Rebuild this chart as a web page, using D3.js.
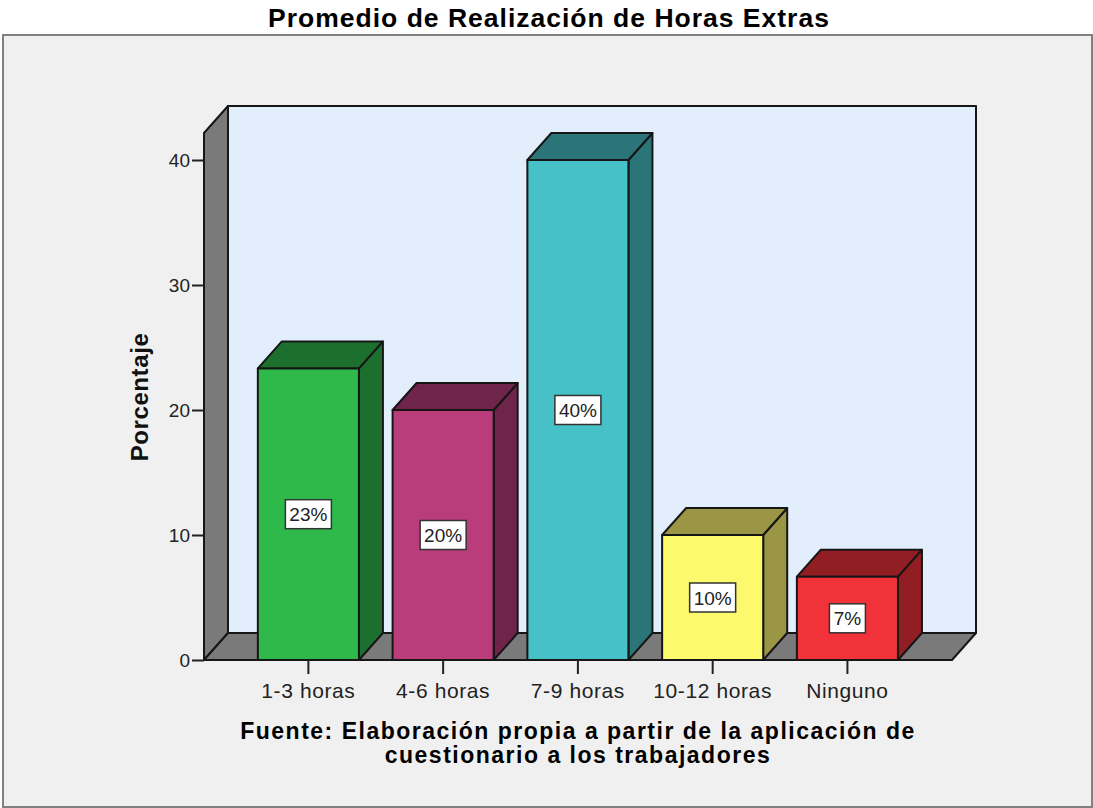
<!DOCTYPE html>
<html>
<head>
<meta charset="utf-8">
<script src="https://cdn.jsdelivr.net/npm/d3@7"></script>
<style>
  html, body { margin: 0; padding: 0; background: #fff; }
  svg { display: block; }
  text { font-family: "Liberation Sans", Arial, sans-serif; }
  .axis text { font-size: 21px; letter-spacing: 0.6px; fill: #222; }
  .axis.left text { font-size: 19px; letter-spacing: 0; }
  .axis line { stroke: #222; stroke-width: 2; }
</style>
</head>
<body>
<script>
var categories = ["1-3 horas", "4-6 horas", "7-9 horas", "10-12 horas", "Ninguno"];
var values = [23.33, 20, 40, 10, 6.67];
var labels = ["23%", "20%", "40%", "10%", "7%"];
var yTicks = [0, 10, 20, 30, 40];
var faceColors = ["#2fb94a", "#b93d7b", "#47c1c8", "#fcf96d", "#f13239"];
var shadeColors = ["#1c6f2d", "#6f254a", "#2b7478", "#9a9645", "#911e22"];

var width = 1093;
var height = 808;
var depthX = 24;
var depthY = 27;
var outline = "#161616";

var svg = d3.select("body").append("svg")
  .attr("width", width)
  .attr("height", height);

// chart frame
svg.append("rect")
  .attr("x", 3)
  .attr("y", 35)
  .attr("width", 1089)
  .attr("height", 772)
  .attr("fill", "#f0f0f0")
  .attr("stroke", "#808080")
  .attr("stroke-width", 2);

svg.append("text")
  .attr("x", 549)
  .attr("y", 27)
  .attr("text-anchor", "middle")
  .attr("font-size", 26.5)
  .attr("font-weight", "bold")
  .attr("letter-spacing", 1)
  .attr("fill", "#000")
  .text("Promedio de Realización de Horas Extras");

var x = d3.scaleBand()
  .domain(categories)
  .range([241, 914.8])
  .paddingInner(0.25)
  .paddingOuter(0.125);

var y = d3.scaleLinear()
  .domain([0, 40])
  .range([660, 160]);

var floorY = y(0);
var wallTop = 133;
var left = 204;
var right = 952;

function poly(points, fill) {
  svg.append("polygon")
    .attr("points", points.map(function (p) { return p.join(","); }).join(" "))
    .attr("fill", fill)
    .attr("stroke", outline)
    .attr("stroke-width", 2)
    .attr("stroke-linejoin", "round");
}

// back wall, side wall, floor
poly([[left + depthX, wallTop - depthY], [right + depthX, wallTop - depthY],
      [right + depthX, floorY - depthY], [left + depthX, floorY - depthY]], "#e2eefb");
poly([[left, wallTop], [left + depthX, wallTop - depthY],
      [left + depthX, floorY - depthY], [left, floorY]], "#7a7a7a");
poly([[left, floorY], [left + depthX, floorY - depthY],
      [right + depthX, floorY - depthY], [right, floorY]], "#7a7a7a");

// bars: side, top, then front
categories.forEach(function (c, i) {
  var x0 = x(c);
  var x1 = x0 + x.bandwidth();
  var top = y(values[i]);
  poly([[x1, floorY], [x1 + depthX, floorY - depthY],
        [x1 + depthX, top - depthY], [x1, top]], shadeColors[i]);
  poly([[x0, top], [x0 + depthX, top - depthY],
        [x1 + depthX, top - depthY], [x1, top]], shadeColors[i]);
  poly([[x0, top], [x1, top], [x1, floorY], [x0, floorY]], faceColors[i]);
});

// value labels
categories.forEach(function (c, i) {
  var cx = x(c) + x.bandwidth() / 2;
  var cy = y(values[i] / 2);
  var boxW = labels[i].length > 2 ? 46 : 36;
  svg.append("rect")
    .attr("x", cx - boxW / 2)
    .attr("y", cy - 14.5)
    .attr("width", boxW)
    .attr("height", 29)
    .attr("fill", "#fff")
    .attr("stroke", "#333")
    .attr("stroke-width", 1.5);
  svg.append("text")
    .attr("x", cx)
    .attr("y", cy + 7)
    .attr("text-anchor", "middle")
    .attr("font-size", 19)
    .attr("fill", "#222")
    .text(labels[i]);
});

var yAxis = d3.axisLeft(y)
  .tickValues(yTicks)
  .tickSize(12)
  .tickSizeOuter(0)
  .tickPadding(2);

svg.append("g")
  .attr("class", "axis left")
  .attr("transform", "translate(" + left + ",0)")
  .call(yAxis)
  .call(function (g) { g.select(".domain").remove(); });

var xAxis = d3.axisBottom(x)
  .tickSize(14)
  .tickSizeOuter(0)
  .tickPadding(9);

svg.append("g")
  .attr("class", "axis")
  .attr("transform", "translate(0," + floorY + ")")
  .call(xAxis)
  .call(function (g) { g.select(".domain").remove(); });

svg.append("text")
  .attr("transform", "translate(148,397) rotate(-90)")
  .attr("text-anchor", "middle")
  .attr("font-size", 24)
  .attr("font-weight", "bold")
  .attr("letter-spacing", 0.6)
  .attr("fill", "#111")
  .text("Porcentaje");

var caption = svg.append("text")
  .attr("text-anchor", "middle")
  .attr("font-size", 23)
  .attr("font-weight", "bold")
  .attr("letter-spacing", 1.5)
  .attr("fill", "#000");
caption.append("tspan").attr("x", 578).attr("y", 739)
  .text("Fuente: Elaboración propia a partir de la aplicación de");
caption.append("tspan").attr("x", 578).attr("y", 763)
  .text("cuestionario a los trabajadores");
</script>
</body>
</html>
